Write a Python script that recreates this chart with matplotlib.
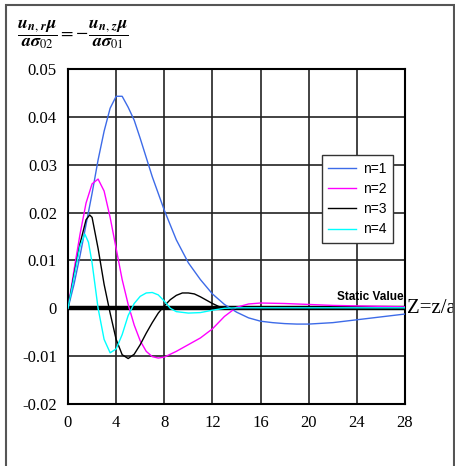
import numpy as np
import matplotlib
matplotlib.use("Agg")
import matplotlib.pyplot as plt
from matplotlib.patches import Rectangle

# values (x = z/a, y = normalised displacement)
x1 = [0, 0.5, 1, 1.5, 2, 2.5, 3, 3.5, 4, 4.5, 5, 5.5, 6, 6.5, 7, 7.5, 8, 9, 10, 11, 12, 13, 14, 15, 16, 17, 18, 19, 20, 22, 24, 26, 28]
n1 = [0, 0.005, 0.011, 0.0175, 0.024, 0.031, 0.037, 0.0418, 0.0443, 0.0443, 0.042, 0.0393, 0.0355, 0.0315, 0.0275, 0.024, 0.0205, 0.0143, 0.0095, 0.006, 0.003, 0.0008, -0.0008, -0.002, -0.0027, -0.003, -0.0032, -0.0033, -0.0033, -0.003, -0.0024, -0.0018, -0.0012]

x2 = [0, 0.5, 1, 1.5, 2, 2.5, 3, 3.5, 4, 4.5, 5, 5.5, 6, 6.5, 7, 7.5, 8, 9, 10, 11, 12, 13, 14, 15, 16, 18, 20, 22, 24, 26, 28]
n2 = [0, 0.008, 0.0155, 0.022, 0.026, 0.027, 0.0245, 0.019, 0.0125, 0.006, 0.0008, -0.0035, -0.0068, -0.009, -0.0101, -0.0104, -0.0102, -0.009, -0.0076, -0.0062, -0.0043, -0.0017, 0.0002, 0.0009, 0.0011, 0.001, 0.0008, 0.0006, 0.0005, 0.0004, 0.0003]

x3 = [0, 0.5, 1, 1.5, 1.8, 2, 2.5, 3, 3.5, 4, 4.5, 5, 5.5, 6, 6.5, 7, 7.5, 8, 8.5, 9, 9.5, 10, 10.5, 11, 11.5, 12, 12.5, 13, 14, 16, 20, 28]
n3 = [0, 0.007, 0.0135, 0.0185, 0.0195, 0.019, 0.0125, 0.005, -0.001, -0.0065, -0.0097, -0.0105, -0.0096, -0.0076, -0.0052, -0.003, -0.001, 0.0005, 0.0018, 0.0027, 0.0032, 0.0032, 0.003, 0.0024, 0.0017, 0.001, 0.0004, 0.0, -0.0002, -0.0002, -0.0001, 0.0]

x4 = [0, 0.5, 1, 1.4, 1.7, 2, 2.5, 3, 3.5, 4, 4.5, 5, 5.5, 6, 6.5, 7, 7.5, 8, 8.5, 9, 10, 11, 12, 13, 14, 28]
n4 = [0, 0.0065, 0.013, 0.0155, 0.0138, 0.0095, 0.0, -0.0065, -0.0093, -0.0085, -0.0055, -0.0015, 0.001, 0.0025, 0.0032, 0.0033, 0.0028, 0.0015, 0.0, -0.0007, -0.001, -0.0009, -0.0004, 0.0, 0.0001, 0.0001]

labels = ["n=1", "n=2", "n=3", "n=4"]
colors = ["#3d6be8", "#ff00ff", "#000000", "#00ffff"]

plt.rcParams["font.family"] = ["Liberation Serif", "DejaVu Serif"]
plt.rcParams["mathtext.fontset"] = "stix"

fig = plt.figure(figsize=(4.55, 4.66), dpi=100)
ax = fig.add_axes([68 / 455, 1 - 404 / 466, 337 / 455, 335 / 466])

# outer frame of the original figure
fig.patches.append(Rectangle((6 / 455, -0.05), 448 / 455, 1.05 - 5 / 466, transform=fig.transFigure,
                             fill=False, edgecolor="#555555", lw=1.5))

ax.axhline(0, color="black", lw=3.2, zorder=2)
for xs, ys, lab, c in zip([x1, x2, x3, x4], [n1, n2, n3, n4], labels, colors):
    ax.plot(xs, ys, color=c, lw=1.0, label=lab, zorder=3)

ax.set_xlim(0, 28)
ax.set_ylim(-0.02, 0.05)
ax.set_xticks(np.arange(0, 29, 4))
ax.set_yticks(np.arange(-0.02, 0.051, 0.01))
ax.set_yticklabels(["-0.02", "-0.01", "0", "0.01", "0.02", "0.03", "0.04", "0.05"])
ax.tick_params(length=0, labelsize=12, pad=8)
ax.grid(True, color="#222222", lw=1.2)
ax.set_axisbelow(True)
for s in ax.spines.values():
    s.set_linewidth(1.5)

leg = ax.legend(loc="upper left", bbox_to_anchor=(0.754, 0.742), borderaxespad=0, frameon=True,
                fancybox=False, prop={"family": "Liberation Sans", "size": 10}, handlelength=2.0,
                labelspacing=0.45, borderpad=0.45, handletextpad=0.5, framealpha=1)
leg.get_frame().set_edgecolor("#333333")
leg.get_frame().set_linewidth(1.0)

ax.text(27.9, 0.0012, "Static Value", family="Liberation Sans", fontweight="bold", fontsize=8.5,
        ha="right", va="bottom")
ax.text(28.2, 0.0, "Z=z/a", fontsize=15, ha="left", va="center", clip_on=False)

fig.text(17 / 455, 1 - 34 / 466,
         r"$\dfrac{\boldsymbol{u}_{\boldsymbol{n,\,r}}\boldsymbol{\mu}}{\boldsymbol{a\sigma}_{02}}"
         r"=-\dfrac{\boldsymbol{u}_{\boldsymbol{n,\,z}}\boldsymbol{\mu}}{\boldsymbol{a\sigma}_{01}}$",
         fontsize=13, ha="left", va="center")

fig.savefig("out.png", dpi=100)
